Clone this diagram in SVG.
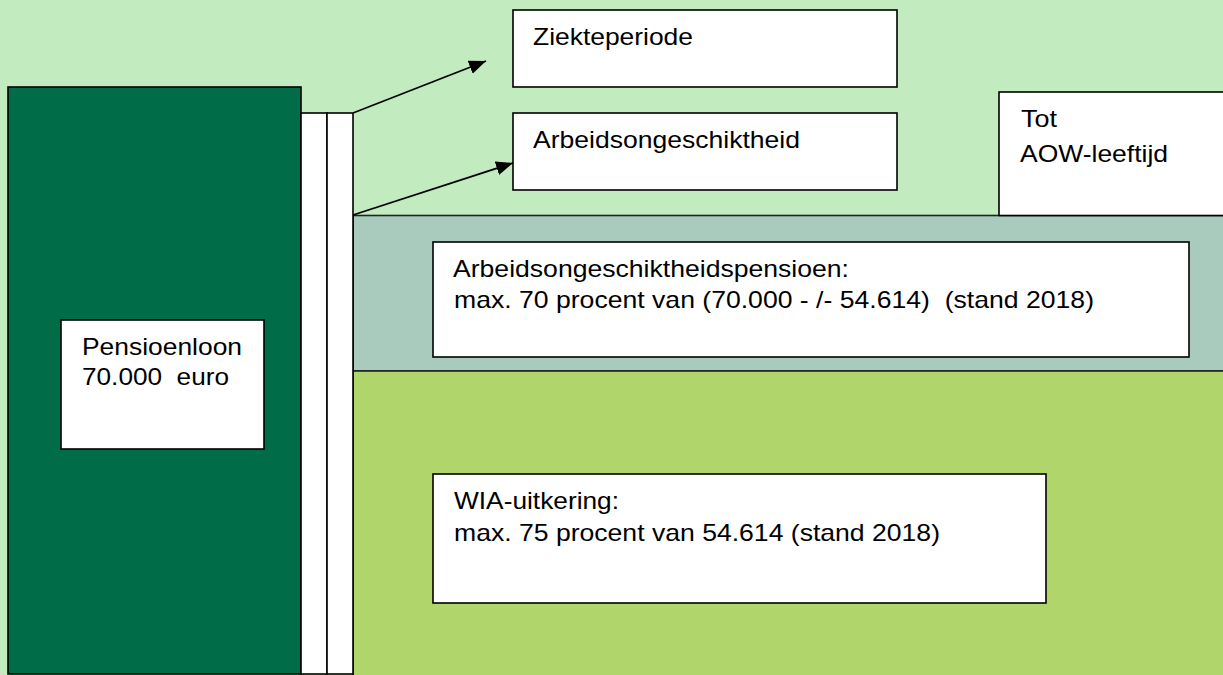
<svg xmlns="http://www.w3.org/2000/svg" width="1223" height="675" viewBox="0 0 1223 675">
  <style>
    .box { fill: #ffffff; stroke: #000000; stroke-width: 1.6; }
    .lbl { font-family: "Liberation Sans", Arial, sans-serif; font-size: 24px; fill: #000000; white-space: pre; }
    .conn { stroke: #000000; stroke-width: 1.8; fill: none; }
  </style>
  <defs>
    <marker id="arrow" viewBox="0 0 17 14" refX="17" refY="7" markerWidth="17" markerHeight="14" markerUnits="userSpaceOnUse" orient="auto">
      <path d="M0,0 L17,7 L0,14 z" fill="#000000"/>
    </marker>
  </defs>

  <rect x="0" y="0" width="1223" height="675" fill="#c3ebc0"/>

  <g id="band-aop">
    <rect x="353" y="215.5" width="872" height="155.5" fill="#a9cbbe" stroke="#222" stroke-width="1.6"/>
  </g>
  <g id="band-wia">
    <rect x="353" y="371" width="872" height="306" fill="#b0d56b" stroke="#222" stroke-width="1.6"/>
  </g>

  <g id="column-pensioen">
    <rect x="8" y="87" width="293" height="587" fill="#006c48" stroke="#000" stroke-width="1.6"/>
  </g>
  <g id="bar-1">
    <rect x="301" y="113" width="26" height="561" fill="#ffffff" stroke="#000" stroke-width="1.6"/>
  </g>
  <g id="bar-2">
    <rect x="327" y="113" width="26" height="561" fill="#ffffff" stroke="#000" stroke-width="1.6"/>
  </g>

  <g id="node-ziekteperiode">
    <rect class="box" x="513" y="10" width="384" height="77"/>
    <text class="lbl" x="533" y="45" textLength="160" lengthAdjust="spacingAndGlyphs">Ziekteperiode</text>
  </g>

  <g id="node-arbeidsongeschiktheid">
    <rect class="box" x="513" y="113" width="384" height="77"/>
    <text class="lbl" x="533" y="148" textLength="267" lengthAdjust="spacingAndGlyphs">Arbeidsongeschiktheid</text>
  </g>

  <g id="node-aow">
    <rect class="box" x="999" y="92" width="230" height="123.5"/>
    <text class="lbl" x="1021" y="127" textLength="36" lengthAdjust="spacingAndGlyphs">Tot</text>
    <text class="lbl" x="1020" y="162" textLength="148" lengthAdjust="spacingAndGlyphs">AOW-leeftijd</text>
  </g>

  <g id="node-pensioenloon">
    <rect class="box" x="61" y="320" width="203" height="129"/>
    <text class="lbl" x="82" y="355" textLength="160" lengthAdjust="spacingAndGlyphs">Pensioenloon</text>
    <text class="lbl" x="82" y="385" textLength="147" lengthAdjust="spacingAndGlyphs" xml:space="preserve">70.000  euro</text>
  </g>

  <g id="node-aop">
    <rect class="box" x="433" y="242" width="756" height="115"/>
    <text class="lbl" x="453" y="277" textLength="396" lengthAdjust="spacingAndGlyphs">Arbeidsongeschiktheidspensioen:</text>
    <text class="lbl" x="454" y="308" textLength="640" lengthAdjust="spacingAndGlyphs" xml:space="preserve">max. 70 procent van (70.000 - /- 54.614)  (stand 2018)</text>
  </g>

  <g id="node-wia">
    <rect class="box" x="433" y="474" width="613" height="129"/>
    <text class="lbl" x="454" y="509" textLength="165" lengthAdjust="spacingAndGlyphs">WIA-uitkering:</text>
    <text class="lbl" x="454" y="541" textLength="486" lengthAdjust="spacingAndGlyphs">max. 75 procent van 54.614 (stand 2018)</text>
  </g>

  <g id="connectors">
    <line class="conn" x1="353" y1="113" x2="486" y2="61" marker-end="url(#arrow)"/>
    <line class="conn" x1="353" y1="215" x2="513" y2="163" marker-end="url(#arrow)"/>
  </g>
</svg>
